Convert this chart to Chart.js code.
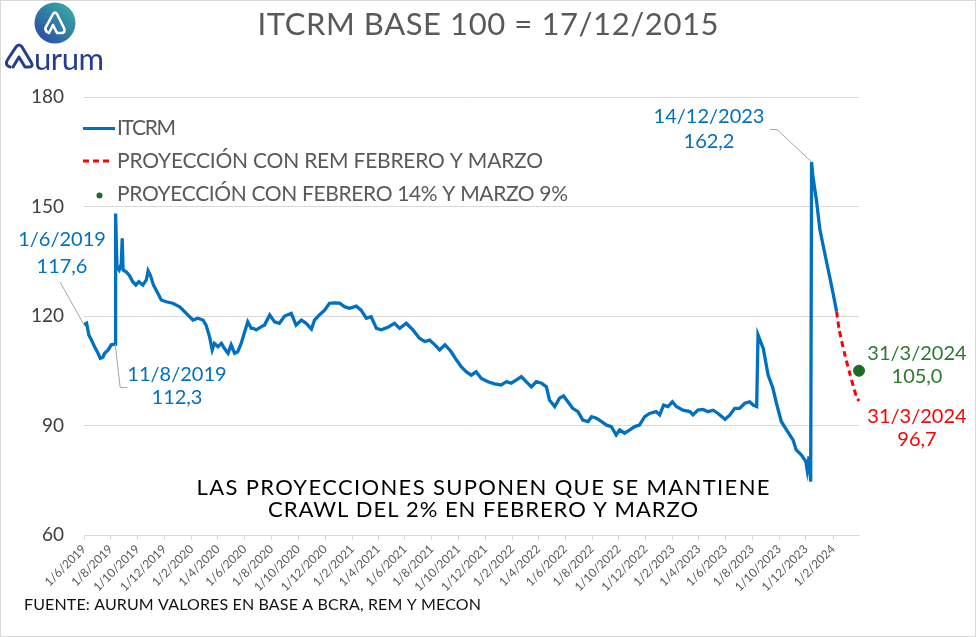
<!DOCTYPE html>
<html>
<head>
<meta charset="utf-8">
<script src="https://cdn.jsdelivr.net/npm/chart.js@4.4.1/dist/chart.umd.min.js"></script>
<style>
  html, body { margin: 0; padding: 0; background: #fff; }
  #wrap { width: 976px; height: 637px; }
</style>
</head>
<body>
<div id="wrap"><canvas id="chart" width="976" height="637"></canvas></div>
<script>
// axis range and tick labels (every 2 months)
const baseDate = "2019-06-01";
const endDate = "2024-03-31";
const tickDates = [
  "2019-06-01", "2019-08-01", "2019-10-01", "2019-12-01",
  "2020-02-01", "2020-04-01", "2020-06-01", "2020-08-01", "2020-10-01", "2020-12-01",
  "2021-02-01", "2021-04-01", "2021-06-01", "2021-08-01", "2021-10-01", "2021-12-01",
  "2022-02-01", "2022-04-01", "2022-06-01", "2022-08-01", "2022-10-01", "2022-12-01",
  "2023-02-01", "2023-04-01", "2023-06-01", "2023-08-01", "2023-10-01", "2023-12-01",
  "2024-02-01"
];
const yTicks = [60, 90, 120, 150, 180];

// ITCRM
const itcrmDates = [
  "2019-06-01", "2019-06-07", "2019-06-12", "2019-06-18", "2019-06-25", "2019-07-03", "2019-07-08", "2019-07-14",
  "2019-07-18", "2019-07-26", "2019-08-02", "2019-08-11", "2019-08-12", "2019-08-15", "2019-08-20", "2019-08-25",
  "2019-08-27", "2019-08-29", "2019-09-05", "2019-09-12", "2019-09-20", "2019-09-27", "2019-10-04", "2019-10-13",
  "2019-10-21", "2019-10-25", "2019-10-30", "2019-11-06", "2019-11-14", "2019-11-24", "2019-12-05", "2019-12-20",
  "2020-01-05", "2020-01-20", "2020-02-04", "2020-02-15", "2020-02-27", "2020-03-05", "2020-03-13", "2020-03-19",
  "2020-03-24", "2020-04-01", "2020-04-09", "2020-04-16", "2020-04-24", "2020-05-01", "2020-05-09", "2020-05-16",
  "2020-05-24", "2020-06-01", "2020-06-08", "2020-06-16", "2020-06-21", "2020-06-27", "2020-07-09", "2020-07-16",
  "2020-07-28", "2020-08-08", "2020-08-19", "2020-08-31", "2020-09-15", "2020-09-26", "2020-10-08", "2020-10-19",
  "2020-10-31", "2020-11-07", "2020-11-18", "2020-11-30", "2020-12-11", "2020-12-23",
  "2021-01-03", "2021-01-15", "2021-01-26", "2021-02-10", "2021-02-21", "2021-03-05", "2021-03-16", "2021-03-28",
  "2021-04-08", "2021-04-23", "2021-05-08", "2021-05-20", "2021-06-04", "2021-06-19", "2021-07-04", "2021-07-16",
  "2021-07-27", "2021-08-08", "2021-08-19", "2021-08-31", "2021-09-11", "2021-09-14", "2021-09-26", "2021-10-07",
  "2021-10-19", "2021-10-30", "2021-11-10", "2021-11-22", "2021-12-07", "2021-12-22",
  "2022-01-06", "2022-01-18", "2022-01-29", "2022-02-10", "2022-02-21", "2022-03-04", "2022-03-16", "2022-03-27",
  "2022-04-08", "2022-04-19", "2022-04-26", "2022-05-08", "2022-05-19", "2022-05-28", "2022-06-07", "2022-06-18",
  "2022-06-30", "2022-07-11", "2022-07-23", "2022-07-31", "2022-08-11", "2022-08-22", "2022-09-03", "2022-09-14",
  "2022-09-25", "2022-10-03", "2022-10-14", "2022-10-26", "2022-11-06", "2022-11-17", "2022-11-29", "2022-12-10",
  "2022-12-25",
  "2023-01-02", "2023-01-11", "2023-01-21", "2023-01-31", "2023-02-09", "2023-02-24", "2023-03-12", "2023-03-19",
  "2023-03-30", "2023-04-11", "2023-04-22", "2023-05-04", "2023-05-15", "2023-05-31", "2023-06-11", "2023-06-22",
  "2023-07-03", "2023-07-15", "2023-07-26", "2023-08-03", "2023-08-11", "2023-08-14", "2023-08-26", "2023-09-06",
  "2023-09-17", "2023-09-25", "2023-10-06", "2023-10-18", "2023-11-02", "2023-11-09", "2023-11-21", "2023-12-01",
  "2023-12-04", "2023-12-08", "2023-12-12", "2023-12-14", "2023-12-17", "2023-12-25",
  "2024-01-02", "2024-01-13", "2024-01-21", "2024-02-01", "2024-02-09"
];
const itcrmValues = [
  117.6, 118.0, 114.8, 113.4, 111.6, 109.8, 108.4, 108.7,
  109.8, 110.7, 112.1, 112.3, 148.1, 133.5, 132.6, 134.4,
  141.3, 132.6, 132.1, 131.2, 129.4, 128.5, 129.4, 128.5,
  129.9, 132.4, 131.2, 128.5, 126.7, 124.4, 123.9, 123.5,
  122.5, 120.7, 118.9, 119.4, 118.9, 117.5, 114.3, 110.7,
  112.5, 111.6, 112.5, 111.1, 109.8, 112.1, 109.8, 110.2,
  112.5, 115.7, 118.4, 116.6, 116.6, 116.2, 117.1, 117.5,
  120.3, 118.4, 118.0, 120.0, 120.7, 117.5, 118.9, 118.0,
  116.4, 118.9, 120.3, 121.6, 123.5, 123.6,
  123.5, 122.5, 122.1, 122.7, 121.6, 119.4, 119.8, 116.6,
  116.2, 116.9, 118.0, 116.6, 118.0, 116.2, 113.9, 113.0,
  113.4, 112.1, 110.7, 112.1, 110.7, 110.2, 108.0, 106.1,
  104.7, 103.8, 104.7, 102.9, 102.0, 101.4,
  101.1, 102.0, 101.6, 102.5, 103.4, 102.0, 100.6, 102.0,
  101.6, 100.6, 97.0, 95.2, 97.5, 98.1, 96.5, 94.7,
  93.8, 91.5, 91.1, 92.4, 92.0, 91.1, 90.1, 89.7,
  87.4, 88.8, 87.9, 88.8, 89.7, 90.1, 92.4, 93.3,
  93.8,
  92.9, 95.6, 95.2, 96.5, 95.2, 94.2, 93.8, 92.9,
  94.2, 94.4, 93.8, 94.2, 93.3, 91.7, 92.9, 94.7,
  94.7, 96.1, 96.5, 95.6, 95.2, 114.8, 111.1, 103.8,
  100.2, 96.1, 91.1, 88.8, 86.0, 83.3, 81.9, 80.1,
  77.8, 81.5, 74.6, 162.2, 158.2, 151.8,
  143.6, 137.2, 132.6, 126.2, 121.2
];

// projection with REM (February and March)
const remDates = ["2024-02-09", "2024-02-15", "2024-02-27", "2024-03-10", "2024-03-25", "2024-03-31"];
const remValues = [121.2, 116.2, 109.8, 104.3, 97.9, 96.7];

// projection with February 14% and March 9%
const fixedDates = ["2024-03-31"];
const fixedValues = [105.0];

const FONT = "Lato, 'DejaVu Sans', sans-serif";
const BLUE = "#0070C0";
const RED = "#FF0000";
const GREEN = "#1E6B23";
const GREEN_TXT = "#2B7A2B";
const GREY = "#595959";

function dayNum(s) {
  return (Date.parse(s) - Date.parse(baseDate)) / 86400000;
}
function toPoints(dates, values) {
  return dates.map((d, i) => ({ x: dayNum(d), y: values[i] }));
}
function fmtDate(s) {
  const [y, m, d] = s.split("-").map(Number);
  return d + "/" + m + "/" + y;
}
const tickDays = tickDates.map(dayNum);

// text stretched (letter spacing) to a target width
function fitText(ctx, text, x, y, width, font, color, align) {
  ctx.save();
  ctx.font = font;
  ctx.fillStyle = color;
  ctx.textBaseline = "middle";
  ctx.textAlign = "left";
  if ("letterSpacing" in ctx) ctx.letterSpacing = "0px";
  const w0 = ctx.measureText(text).width;
  let sp = 0;
  if ("letterSpacing" in ctx && text.length > 1) {
    sp = (width - w0) / (text.length - 1);
    ctx.letterSpacing = sp + "px";
  }
  const total = w0 + sp * (text.length - 1);
  let x0 = x;
  if (align === "center") x0 = x - total / 2;
  if (align === "right") x0 = x - total;
  ctx.fillText(text, x0, y);
  ctx.restore();
}

function label(ctx, text, x, y, color) {
  ctx.save();
  ctx.font = "20px " + FONT;
  ctx.fillStyle = color;
  ctx.textAlign = "center";
  ctx.textBaseline = "middle";
  ctx.fillText(text, x, y);
  ctx.restore();
}

const decorations = {
  id: "decorations",
  beforeDraw(chart) {
    const ctx = chart.ctx;
    ctx.save();
    ctx.fillStyle = "#fff";
    ctx.fillRect(0, 0, chart.width, chart.height);
    ctx.restore();
  },
  afterDraw(chart) {
    const ctx = chart.ctx;
    const xs = chart.scales.x, ys = chart.scales.y;
    const px = (d) => xs.getPixelForValue(dayNum(d));
    const py = (v) => ys.getPixelForValue(v);

    // border
    ctx.save();
    ctx.strokeStyle = "#d9d9d9";
    ctx.lineWidth = 1;
    ctx.strokeRect(0.5, 0.5, chart.width - 1, chart.height - 1);
    ctx.restore();

    // logo
    ctx.save();
    const g = ctx.createLinearGradient(40, 40, 72, 6);
    g.addColorStop(0, "#2A4FA3");
    g.addColorStop(1, "#38ABA6");
    ctx.fillStyle = g;
    ctx.beginPath();
    ctx.arc(55, 23, 20.5, 0, Math.PI * 2);
    ctx.fill();
    ctx.strokeStyle = "#fff";
    ctx.lineWidth = 2.6;
    ctx.lineJoin = "round";
    ctx.lineCap = "round";
    ctx.beginPath();
    ctx.moveTo(47, 32);
    ctx.quadraticCurveTo(44, 29, 47, 25);
    ctx.lineTo(53, 14);
    ctx.quadraticCurveTo(55, 11, 57, 14);
    ctx.lineTo(64, 28);
    ctx.quadraticCurveTo(66, 33, 61, 33);
    ctx.lineTo(57, 33);
    ctx.lineTo(53, 25);
    ctx.lineTo(49, 33);
    ctx.stroke();
    // "A" glyph of the word mark
    ctx.strokeStyle = "#233E91";
    ctx.lineWidth = 3;
    ctx.beginPath();
    ctx.moveTo(10, 67);
    ctx.quadraticCurveTo(4, 65, 8, 59);
    ctx.lineTo(16, 47);
    ctx.quadraticCurveTo(19, 43, 22, 47);
    ctx.lineTo(31, 62);
    ctx.quadraticCurveTo(34, 67, 29, 67);
    ctx.lineTo(25, 67);
    ctx.lineTo(19, 57);
    ctx.lineTo(13, 67);
    ctx.stroke();
    ctx.restore();
    fitText(ctx, "urum", 34, 60, 70, "31px " + FONT, "#233E91", "left");

    // title
    fitText(ctx, "ITCRM BASE 100 = 17/12/2015", 488, 25, 461, "31px " + FONT, GREY, "center");

    // legend
    ctx.save();
    ctx.lineWidth = 3;
    ctx.strokeStyle = BLUE;
    ctx.beginPath(); ctx.moveTo(83, 128.5); ctx.lineTo(115, 128.5); ctx.stroke();
    ctx.strokeStyle = RED;
    ctx.setLineDash([6, 4]);
    ctx.beginPath(); ctx.moveTo(83, 161); ctx.lineTo(113, 161); ctx.stroke();
    ctx.setLineDash([]);
    ctx.fillStyle = GREEN;
    ctx.beginPath(); ctx.arc(99.5, 195.5, 3, 0, Math.PI * 2); ctx.fill();
    ctx.restore();
    fitText(ctx, "ITCRM", 117, 128.5, 59, "21px " + FONT, GREY, "left");
    fitText(ctx, "PROYECCIÓN CON REM FEBRERO Y MARZO", 117, 161, 426, "21px " + FONT, GREY, "left");
    fitText(ctx, "PROYECCIÓN CON FEBRERO 14% Y MARZO 9%", 117, 194, 451, "21px " + FONT, GREY, "left");

    // leader lines
    const pStart = { x: px(itcrmDates[0]), y: py(itcrmValues[0]) };
    const iAug = itcrmDates.indexOf("2019-08-11");
    const pAug = { x: px(itcrmDates[iAug]), y: py(itcrmValues[iAug]) };
    const iMax = itcrmDates.indexOf("2023-12-14");
    const pMax = { x: px(itcrmDates[iMax]), y: py(itcrmValues[iMax]) };
    ctx.save();
    ctx.strokeStyle = "#a6a6a6";
    ctx.lineWidth = 1;
    ctx.beginPath();
    ctx.moveTo(60, 282); ctx.lineTo(pStart.x, pStart.y);
    ctx.moveTo(pAug.x, pAug.y); ctx.lineTo(pAug.x + 5, 387.5); ctx.lineTo(pAug.x + 12, 387.5);
    ctx.moveTo(770, 129.5); ctx.lineTo(777, 129.5); ctx.lineTo(pMax.x, pMax.y);
    ctx.stroke();
    ctx.restore();

    // data labels
    label(ctx, fmtDate(itcrmDates[0]), 62, 240, BLUE);
    label(ctx, itcrmValues[0].toFixed(1).replace(".", ","), 62, 267, BLUE);
    label(ctx, fmtDate(itcrmDates[iAug]), 177, 375, BLUE);
    label(ctx, itcrmValues[iAug].toFixed(1).replace(".", ","), 177, 398, BLUE);
    label(ctx, fmtDate(itcrmDates[iMax]), 709, 117, BLUE);
    label(ctx, itcrmValues[iMax].toFixed(1).replace(".", ","), 709, 142, BLUE);
    const nf = fixedDates.length - 1;
    label(ctx, fmtDate(fixedDates[nf]), 917, 354, GREEN_TXT);
    label(ctx, fixedValues[nf].toFixed(1).replace(".", ","), 917, 377, GREEN_TXT);
    const nr = remDates.length - 1;
    label(ctx, fmtDate(remDates[nr]), 917, 417, RED);
    label(ctx, remValues[nr].toFixed(1).replace(".", ","), 917, 440, RED);

    // note
    fitText(ctx, "LAS PROYECCIONES SUPONEN QUE SE MANTIENE", 483, 488, 573, "22px " + FONT, "#000", "center");
    fitText(ctx, "CRAWL DEL 2% EN FEBRERO Y MARZO", 483, 510, 430, "22px " + FONT, "#000", "center");

    // source
    fitText(ctx, "FUENTE: AURUM VALORES EN BASE A BCRA, REM Y MECON", 24, 605, 457, "16px " + FONT, "#111", "left");
  }
};

const ctx = document.getElementById("chart").getContext("2d");
new Chart(ctx, {
  type: "line",
  data: {
    datasets: [
      {
        label: "ITCRM",
        data: toPoints(itcrmDates, itcrmValues),
        borderColor: BLUE,
        borderWidth: 3.3,
        pointRadius: 0,
        tension: 0,
        order: 2,
      },
      {
        label: "PROYECCIÓN CON REM FEBRERO Y MARZO",
        data: toPoints(remDates, remValues),
        borderColor: RED,
        borderWidth: 3,
        borderDash: [6, 4],
        pointRadius: 0,
        tension: 0.2,
        clip: false,
        order: 1,
      },
      {
        label: "PROYECCIÓN CON FEBRERO 14% Y MARZO 9%",
        data: toPoints(fixedDates, fixedValues),
        showLine: false,
        pointRadius: 5.5,
        pointBackgroundColor: GREEN,
        pointBorderColor: GREEN,
        clip: false,
        order: 0,
      },
    ],
  },
  options: {
    responsive: false,
    animation: false,
    layout: { padding: { left: 0, right: 117, top: 97, bottom: 0 } },
    plugins: {
      legend: { display: false },
      tooltip: { enabled: false },
    },
    scales: {
      x: {
        type: "linear",
        min: 0,
        max: dayNum(endDate),
        afterBuildTicks: (scale) => {
          scale.ticks = tickDays.map((v) => ({ value: v }));
        },
        afterFit: (scale) => {
          scale.height = 102;
        },
        grid: {
          drawOnChartArea: false,
          drawTicks: true,
          tickLength: 5,
          color: "#d9d9d9",
        },
        border: { display: true, color: "#d9d9d9" },
        ticks: {
          autoSkip: false,
          maxRotation: 45,
          minRotation: 45,
          padding: 2,
          color: GREY,
          font: { family: FONT, size: 12 },
          callback: (v) => {
            const i = tickDays.indexOf(v);
            return i >= 0 ? fmtDate(tickDates[i]) : "";
          },
        },
      },
      y: {
        min: yTicks[0],
        max: yTicks[yTicks.length - 1],
        afterBuildTicks: (scale) => {
          scale.ticks = yTicks.map((v) => ({ value: v }));
        },
        afterFit: (scale) => {
          scale.width = 84;
        },
        grid: { color: "#d9d9d9", drawTicks: false },
        border: { display: false },
        ticks: {
          padding: 20,
          color: "#404040",
          font: { family: FONT, size: 19 },
        },
      },
    },
  },
  plugins: [decorations],
});
</script>
</body>
</html>
